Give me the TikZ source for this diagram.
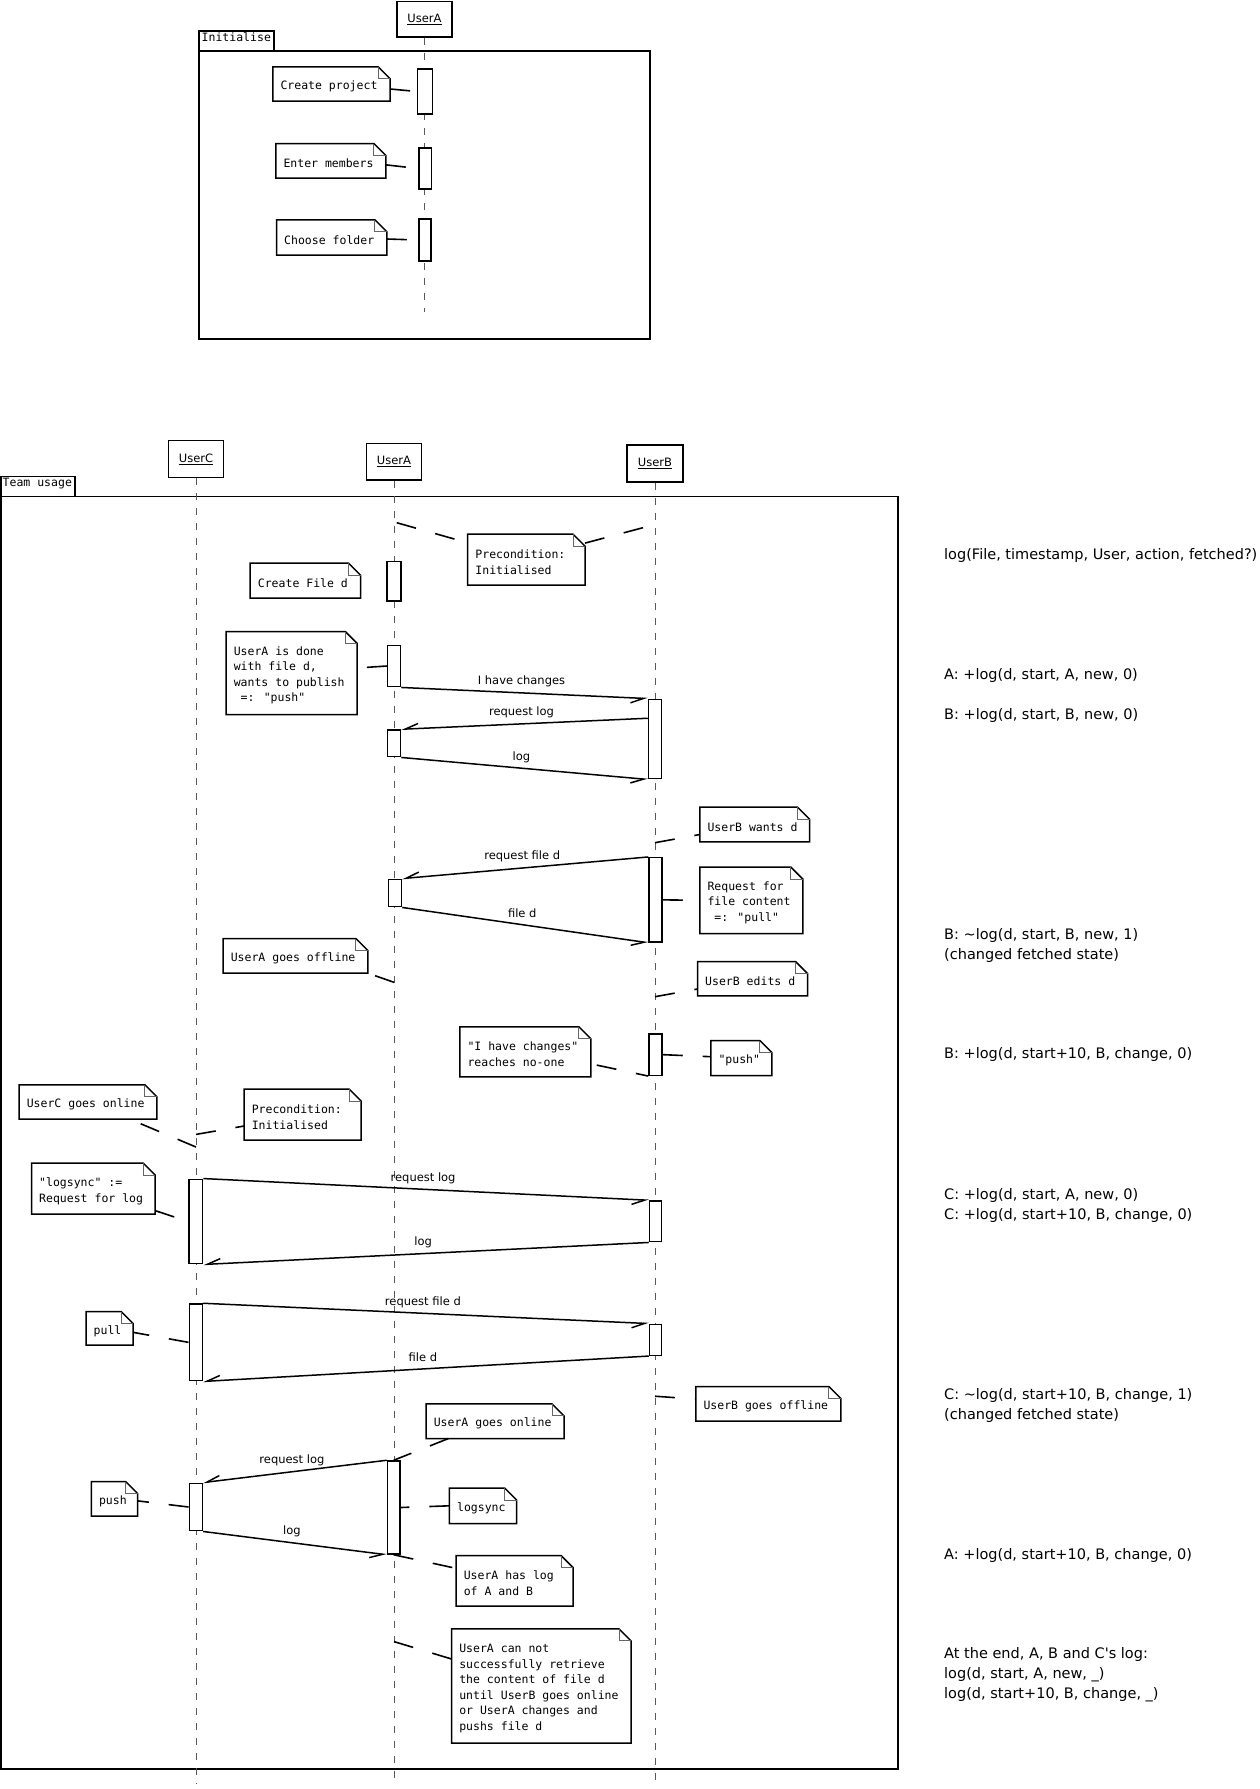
\documentclass[tikz,border=0pt]{standalone}
\usepackage{fontspec}
\newfontfamily\dvmono{DejaVu Sans Mono}
\newfontfamily\dvsans{DejaVu Sans}
\usetikzlibrary{arrows.meta,calc}

\tikzset{
  boxline/.style={line width=1.5pt},
  head/.style={draw, boxline, fill=white, inner sep=0pt, rectangle,
    font=\dvsans\fontsize{11.5}{13}\selectfont},
  lifeline/.style={line width=1pt, black!65, dash pattern=on 7pt off 8pt},
  framebox/.style={draw, boxline, inner sep=0pt, rectangle},
  tabtext/.style={inner sep=0pt, anchor=west, font=\dvmono\fontsize{11.5}{13}\selectfont},
  act/.style={draw, boxline, fill=white, inner sep=0pt, rectangle},
  notebox/.style={inner sep=0pt, rectangle},
  noteedge/.style={boxline, fill=white, line join=miter},
  notefold/.style={line width=0.9pt, black!60},
  notetext/.style={inner sep=0pt, anchor=west, align=left,
    font=\dvmono\fontsize{11.5}{15.5}\selectfont},
  link/.style={line width=1.6pt, dash pattern=on 20pt off 20pt},
  msg/.style={line width=1.5pt, -{Straight Barb[right, length=13pt, width=10pt]}},
  mlabel/.style={midway, xshift=-3pt, yshift=11.5pt, inner sep=0pt,
    font=\dvsans\fontsize{11.5}{13}\selectfont},
  logtext/.style={inner sep=0pt, anchor=west, align=left,
    font=\dvsans\fontsize{14.5}{20}\selectfont},
}

% note with folded corner: name, x1, y1, x2, y2, text
\newcommand\umlnote[6]{%
  \pgfmathsetmacro\nw{#4-#2}%
  \pgfmathsetmacro\nh{#5-#3}%
  \node[notebox, minimum width=\nw pt, minimum height=\nh pt] (#1) at ({(#2+#4)/2},{(#3+#5)/2}) {};
  \draw[noteedge] (#1.north west) -- ([xshift=-12pt]#1.north east)
    -- ([yshift=-12pt]#1.north east) -- (#1.south east) -- (#1.south west) -- cycle;
  \draw[notefold] ([xshift=-12pt]#1.north east) |- ([yshift=-12pt]#1.north east);
  \node[notetext] (#1-t) at ([xshift=7.5pt,yshift=-2.5pt]#1.west) {#6};
}
% activation bar: name, x1, y1, x2, y2
\newcommand\actbar[5]{%
  \pgfmathsetmacro\aw{#4-#2}%
  \pgfmathsetmacro\ah{#5-#3}%
  \node[act, minimum width=\aw pt, minimum height=\ah pt] (#1) at ({(#2+#4)/2},{(#3+#5)/2}) {};
}

\begin{document}
\begin{tikzpicture}[x=1pt, y=-1pt]
\fill[white] (0,0) rectangle (1260,1789);
\useasboundingbox (0,0) rectangle (1260,1789);

% ---------------- Initialise ----------------
\node[framebox, minimum width=451pt, minimum height=288pt] (fInit) at (424.5,195) {};
\node[framebox, minimum width=75pt, minimum height=20pt] (tabInit) at (236.5,41) {};
\node[tabtext] (tabInitT) at (201.5,37.5) {Initialise};

\node[head, minimum width=55pt, minimum height=35.5pt] (hI) at (424.5,19.25) {\underline{UserA}};
\coordinate (endI) at (424.5,312);
\draw[lifeline] (hI.south) -- (endI);

\actbar{i1}{417.7}{69}{432.3}{114}
\actbar{i2}{419}{148}{431.7}{189}
\actbar{i3}{419}{219}{431}{261}

\umlnote{nCP}{273}{67}{390}{101}{Create project}
\umlnote{nEM}{276}{143.7}{385.7}{178}{Enter members}
\umlnote{nCFo}{276.7}{220}{386.7}{255}{Choose folder}

\draw[link] ([yshift=-5pt]nCP.east) -- (i1.west);
\draw[link] ([yshift=-4pt]nEM.east) -- (i2.west);
\draw[link] ([yshift=-1.5pt]nCFo.east) -- (i3.west);

% ---------------- Team usage ----------------
\node[framebox, minimum width=897pt, minimum height=1272.3pt] (fTeam) at (449.5,1132.85) {};
\node[framebox, minimum width=74pt, minimum height=20pt] (tabTeam) at (38,486.7) {};
\node[tabtext] (tabTeamT) at (2.5,483.5) {Team usage};

\node[head, minimum width=55.4pt, minimum height=36.6pt] (hC) at (196,459) {\underline{UserC}};
\node[head, minimum width=55.4pt, minimum height=36.7pt] (hA) at (394,461.65) {\underline{UserA}};
\node[head, minimum width=55.8pt, minimum height=37pt] (hB) at (655,463.5) {\underline{UserB}};

\coordinate (endC) at (196,1784);
\coordinate (endA) at (394,1784);
\coordinate (endB) at (655,1787);
\draw[lifeline] (hC.south) -- (endC);
\draw[lifeline] (hA.south) -- (endA);
\draw[lifeline] (hB.south) -- (endB);

% activation bars
\actbar{a1}{387}{561.7}{401}{601}
\actbar{a2}{387.5}{645.3}{400.5}{686.7}
\actbar{b1}{648.5}{699.3}{661.5}{778.7}
\actbar{a3}{387.5}{730}{400.5}{756.7}
\actbar{b2}{649}{857.7}{662}{942}
\actbar{a4}{388.5}{879.3}{401.5}{906.7}
\actbar{b3}{649}{1034}{662}{1075.3}
\actbar{c1}{189}{1179.3}{202.7}{1263.7}
\actbar{b4}{649.5}{1201}{661.7}{1241.7}
\actbar{c2}{189.3}{1304}{202.3}{1380.7}
\actbar{b5}{649.5}{1324.3}{661.7}{1355.3}
\actbar{a5}{387.5}{1461}{399.8}{1554}
\actbar{c3}{189.3}{1483.3}{202.3}{1530.7}

% messages
\draw[msg] (a2.south east) -- (b1.north west) node[mlabel] (m1) {I have changes};
\draw[msg] ([yshift=-19.7pt]b1.north west) -- (a3.north east) node[mlabel] (m2) {request log};
\draw[msg] (a3.south east) -- (b1.south west) node[mlabel] (m3) {log};
\draw[msg] (b2.north west) -- (a4.north east) node[mlabel] (m4) {request file d};
\draw[msg] (a4.south east) -- (b2.south west) node[mlabel] (m5) {file d};
\draw[msg] (c1.north east) -- (b4.north west) node[mlabel] (m6) {request log};
\draw[msg] (b4.south west) -- (c1.south east) node[mlabel] (m7) {log};
\draw[msg] (c2.north east) -- (b5.north west) node[mlabel] (m8) {request file d};
\draw[msg] (b5.south west) -- (c2.south east) node[mlabel] (m9) {file d};
\draw[msg] (a5.north west) -- (c3.north east) node[mlabel] (m10) {request log};
\draw[msg] (c3.south east) -- (a5.south west) node[mlabel] (m11) {log};

% notes
\umlnote{nCFd}{250.4}{563.3}{360.3}{598}{Create File d}
\umlnote{nP1}{467.9}{534.3}{584.8}{585}{Precondition:\\Initialised}
\umlnote{nDone}{226.3}{631.7}{357}{714.3}{UserA is done\\with file d,\\wants to publish\\\hspace*{0.602em}=: "push"}
\umlnote{nBW}{700}{807.3}{809.3}{841.7}{UserB wants d}
\umlnote{nRF}{700}{867.3}{802.7}{933.3}{Request for\\file content\\\hspace*{0.602em}=: "pull"}
\umlnote{nAO}{223.3}{938.7}{367.7}{973}{UserA goes offline}
\umlnote{nBE}{697.7}{961.7}{807.3}{995.7}{UserB edits d}
\umlnote{nNoOne}{460}{1027}{590.7}{1076.7}{"I have changes"\\reaches no-one}
\umlnote{nPushB}{711}{1040.7}{771.7}{1075.3}{"push"}
\umlnote{nCO}{19.3}{1085}{156.7}{1119}{UserC goes online}
\umlnote{nP2}{244.3}{1089.3}{361}{1140}{Precondition:\\Initialised}
\umlnote{nLS}{31.7}{1163.3}{155}{1214}{"logsync" :=\\Request for log}
\umlnote{nPull}{86.2}{1311.7}{133}{1345}{pull}
\umlnote{nBO}{696}{1386.7}{840.7}{1421}{UserB goes offline}
\umlnote{nAOn}{426.3}{1404}{563.8}{1438.3}{UserA goes online}
\umlnote{nPushC}{91.5}{1481.7}{137.5}{1516}{push}
\umlnote{nLsync}{449.6}{1488.3}{516.5}{1523.3}{logsync}
\umlnote{nHas}{456.3}{1555.7}{572.8}{1606}{UserA has log\\of A and B}
\umlnote{nCannot}{451.8}{1629}{630.8}{1743}{UserA can not\\successfully retrieve\\the content of file d\\until UserB goes online\\or UserA changes and\\pushs file d}

% points on the lifelines where note links attach
\coordinate (pA1) at (396.7,522.7);
\coordinate (pB1) at (655,524.5);
\coordinate (pB2) at (655,842.7);
\coordinate (pA2) at (394,982.3);
\coordinate (pB3) at (655,996.7);
\coordinate (pC1) at (196,1147);
\coordinate (pC2) at (196,1134.4);
\coordinate (pB4) at (655,1396.2);
\coordinate (pA3) at (394,1641.6);

% note links
\draw[link] (pA1) -- ([yshift=-8.7pt]nP1.north west);
\draw[link] ([yshift=-9pt]nP1.north east) -- (pB1);
\draw[link] (a2.west) -- ([yshift=5pt]nDone.east);
\draw[link] (pB2) -- ([yshift=-10pt]nBW.west);
\draw[link] (b2.east) -- (nRF.west);
\draw[link] (pA2) -- (nAO.south east);
\draw[link] (pB3) -- ([yshift=-10.3pt]nBE.west);
\draw[link] (b3.east) -- ([yshift=1.3pt]nPushB.west);
\draw[link, dash phase=34pt] ([yshift=-12pt]nNoOne.east) -- (b3.south west);
\draw[link] (pC1) -- ([xshift=-27pt]nCO.south east);
\draw[link] (pC2) -- ([yshift=-11.35pt]nP2.west);
\draw[link] ([yshift=-22pt]nLS.east) -- (c1.west);
\draw[link] (c2.west) -- ([yshift=-4pt]nPull.east);
\draw[link] (pB4) -- ([yshift=4.75pt]nBO.west);
\draw[link] ([xshift=22.4pt]nAOn.south west) -- (a5.north);
\draw[link] (c3.west) -- ([yshift=-2pt]nPushC.east);
\draw[link] (nLsync.west) -- (a5.east);
\draw[link] (a5.south) -- ([yshift=12.5pt]nHas.west);
\draw[link] (pA3) -- ([yshift=27pt]nCannot.west);

% log entries beside the diagram
\node[logtext] (r1) at (944,555) {log(File, timestamp, User, action, fetched?)};
\node[logtext] (r2) at (944,675) {A: +log(d, start, A, new, 0)};
\node[logtext] (r3) at (944,715) {B: +log(d, start, B, new, 0)};
\node[logtext] (r4) at (944,945) {B: \textasciitilde log(d, start, B, new, 1)\\(changed fetched state)};
\node[logtext] (r5) at (944,1054.6) {B: +log(d, start+10, B, change, 0)};
\node[logtext] (r6) at (944,1205) {C: +log(d, start, A, new, 0)\\C: +log(d, start+10, B, change, 0)};
\node[logtext] (r7) at (944,1405) {C: \textasciitilde log(d, start+10, B, change, 1)\\(changed fetched state)};
\node[logtext] (r8) at (944,1555) {A: +log(d, start+10, B, change, 0)};
\node[logtext] (r9) at (944,1675) {At the end, A, B and C's log:\\log(d, start, A, new, \_)\\log(d, start+10, B, change, \_)};
\end{tikzpicture}
\end{document}
